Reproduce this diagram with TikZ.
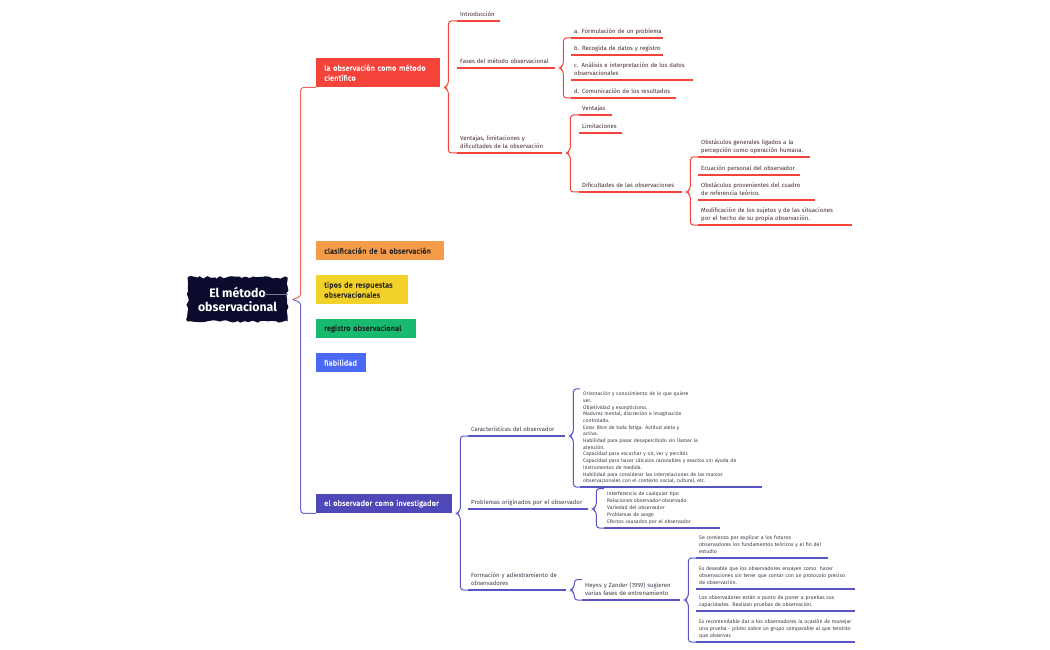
\documentclass[tikz,border=0pt]{standalone}
\usepackage{fontspec}
\setmainfont{Fira Sans}
\newfontfamily\topicfam[FakeBold=0.6]{Fira Sans}
\usetikzlibrary{calc,decorations.pathmorphing}
\definecolor{cred}{HTML}{F4433A}
\definecolor{cmred}{HTML}{F2675C}
\definecolor{corange}{HTML}{F49C4A}
\definecolor{cyellow}{HTML}{F2D22A}
\definecolor{cgreen}{HTML}{18BA70}
\definecolor{cblue}{HTML}{4A6AF5}
\definecolor{cpurple}{HTML}{4E48B8}
\definecolor{cpl}{HTML}{5A55C4}
\definecolor{cmblue}{HTML}{6C69D3}
\definecolor{cnavy}{HTML}{0B0B2E}
\definecolor{ctxtr}{HTML}{4A2B2B}
\definecolor{ctxtp}{HTML}{3C3C4C}
\definecolor{cdark}{HTML}{1E1E1E}
\definecolor{cgline}{HTML}{7A7A98}
\newcommand\myleaf{\fontsize{6}{8}\selectfont}
\newcommand\myblock{\fontsize{5.1}{6.7}\selectfont}
\newcommand\myblockb{\fontsize{5.1}{7}\selectfont}
\newcommand\myblockc{\fontsize{5.2}{7.3}\selectfont}
\newcommand\mytopic{\topicfam\fontsize{7.6}{10}\selectfont}
\newcommand\tl[1]{\begin{tabular}{@{}l@{}}#1\end{tabular}}
\newcommand\brk[4]{\draw[brack,#4] (#2) -| ($(#1.south east)+(8,-3)$) -- ($(#1.south east)+(4,0)$) -- ($(#1.south east)+(8,3)$) |- (#3);}
\begin{document}
\begin{tikzpicture}[x=1pt,y=-1pt,
  lf/.style={anchor=south west, inner xsep=3pt, inner ysep=2pt, text width=#1},
  rl/.style={text=ctxtr, font=\myleaf},
  pl/.style={text=ctxtp, font=\myleaf},
  pb/.style={text=ctxtp, font=\myblock},
  pbb/.style={text=ctxtp, font=\myblockb},
  pbc/.style={text=ctxtp, font=\myblockc},
  ulr/.style={draw=cred, line width=1.5pt},
  ulp/.style={draw=cpl, line width=1.5pt},
  brack/.style={line width=1pt, rounded corners=3pt},
  topic/.style={anchor=north west, inner xsep=8pt, inner ysep=0pt, align=left, font=\mytopic},
  root/.style={fill=cnavy, text=white, font=\bfseries\fontsize{12.3}{14.5}\selectfont, align=center,
    minimum width=100pt, minimum height=44pt, inner sep=0pt,
    decorate, decoration={random steps, segment length=3.5pt, amplitude=1.4pt}}
]
\pgfmathsetseed{11}
\useasboundingbox (0,0) rectangle (1050,650);
\fill[white] (0,0) rectangle (1050,650);

% root
\node[root] (root) at (237.5,299.5) {El método\\observacional};
\coordinate (rootc) at (264,294);
\draw[cgline, line width=0.5pt] (rootc) -- (rootc -| root.east);

% topics
\node[topic, fill=cred, text=white, minimum height=29pt, text width=108pt] (obs) at (316,58) {la observación como método\\científico};
\node[topic, fill=corange, text=cdark, minimum height=19pt, text width=112pt] (clas) at (316,241) {clasificación de la observación};
\node[topic, fill=cyellow, text=cdark, minimum height=29pt, text width=76pt] (tipos) at (316,275) {tipos de respuestas\\observacionales};
\node[topic, fill=cgreen, text=cdark, minimum height=19pt, text width=84pt] (reg) at (316,319) {registro observacional};
\node[topic, fill=cblue, text=white, minimum height=19pt, text width=34pt] (fiab) at (316,353) {fiabilidad};
\node[topic, fill=cpurple, text=white, minimum height=19pt, text width=120pt] (inv) at (316,494) {el observador como investigador};

% main bracket
\draw[brack, cmred] (obs.south west) -| ($(root.east)+(13,-3)$) -- ($(root.east)+(5,0)$);
\draw[brack, cmblue] ($(root.east)+(5,0)$) -- ($(root.east)+(13,3)$) |- (inv.south west);

% red branch
\node[lf=37pt, rl] (intro) at (457,21) {\tl{Introducción}};
\node[lf=92pt, rl] (fases) at (457,68) {\tl{Fases del método observacional}};
\node[lf=99pt, rl] (vent) at (457,153) {\tl{Ventajas, limitaciones y\\dificultades de la observación}};
\node[lf=86pt, rl] (fa) at (571,38) {\tl{a. Formulación de un problema}};
\node[lf=86pt, rl] (fb) at (571,55) {\tl{b. Recogida de datos y registro}};
\node[lf=116pt, rl] (fc) at (571,80) {\tl{c. Análisis e interpretación de los datos\\observacionales}};
\node[lf=99pt, rl] (fd) at (571,98) {\tl{d. Comunicación de los resultados}};
\node[lf=27pt, rl] (va) at (579,115) {\tl{Ventajas}};
\node[lf=37pt, rl] (vb) at (579,133) {\tl{Limitaciones}};
\node[lf=97pt, rl] (vc) at (579,192) {\tl{Dificultades de las observaciones}};
\node[lf=106pt, rl] (da) at (698,157) {\tl{Obstáculos generales ligados a la\\percepción como operación humana.}};
\node[lf=96pt, rl] (db) at (698,175) {\tl{Ecuación personal del observador}};
\node[lf=111pt, rl] (dc) at (698,200) {\tl{Obstáculos provenientes del cuadro\\de referencia teórico.}};
\node[lf=148pt, rl] (dd) at (698,225) {\tl{Modificación de los sujetos y de las situaciones\\por el hecho de su propia observación.}};
\foreach \n in {intro,fases,vent,fa,fb,fc,fd,va,vb,vc,da,db,dc,dd}
  \draw[ulr] (\n.south west) -- (\n.south east);
\brk{obs}{intro.south west}{vent.south west}{cred}
\brk{fases}{fa.south west}{fd.south west}{cred}
\brk{vent}{va.south west}{vc.south west}{cred}
\brk{vc}{da.south west}{dd.south west}{cred}

% purple branch
\node[lf=91pt, pl] (car) at (468,436) {\tl{Características del observador}};
\node[lf=114pt, pl] (pro) at (468,509) {\tl{Problemas originados por el observador}};
\node[lf=92pt, pl] (form) at (468,590) {\tl{Formación y adiestramiento de\\observadores}};
\node[lf=176pt, pb] (carl) at (580,487) {\tl{Orientación y conocimiento de lo que quiere\\ver.\\Objetividad y escepticismo.\\Madurez mental, discreción e imaginación\\controlada.\\Estar libre de toda fatiga. Actitud aleta y\\activa.\\Habilidad para pasar desapercibido sin llamar la\\atención.\\Capacidad para escuchar y oír, ver y percibir.\\Capacidad para hacer cálculos razonables y exactos sin ayuda de\\instrumentos de medida.\\Habilidad para considerar las interrelaciones de las marcos\\observacionales con el contexto social, cultural, etc.}};
\node[lf=110pt, pbb] (prol) at (604,528) {\tl{Interferencia de cualquier tipo\\Relaciones observador-observado\\Variedad del observador\\Problemas de sesgo\\Efectos causados por el observador}};
\node[lf=92pt, pl] (hey) at (582,600) {\tl{Heyns y Zander (1959) sugieren\\varias fases de entrenamiento}};
\node[lf=126pt, pbc] (ha) at (696,558) {\tl{Se comienza por explicar a los futuros\\observadores los fundamentos teóricos y el fin del\\estudio}};
\node[lf=153pt, pbc] (hb) at (696,589) {\tl{Es deseable que los observadores ensayen como\ \ hacer\\observaciones sin tener que contar con un protocolo preciso\\de observación.}};
\node[lf=153pt, pbc] (hc) at (696,611) {\tl{Los observadores están a punto de poner a pruebas sus\\capacidades. Realizan pruebas de observación.}};
\node[lf=153pt, pbc] (hd) at (696,642) {\tl{Es recomendable dar a los observadores la ocasión de manejar\\una prueba - piloto sobre un grupo comparable al que tendrán\\que observar.}};
\foreach \n in {car,pro,form,carl,prol,hey,ha,hb,hc,hd}
  \draw[ulp] (\n.south west) -- (\n.south east);
\brk{inv}{car.south west}{form.south west}{cpl}
\brk{car}{carl.north west}{carl.south west}{cpl}
\brk{pro}{prol.north west}{prol.south west}{cpl}
\brk{form}{hey.north west}{hey.south west}{cpl}
\brk{hey}{ha.south west}{hd.south west}{cpl}
\end{tikzpicture}
\end{document}
